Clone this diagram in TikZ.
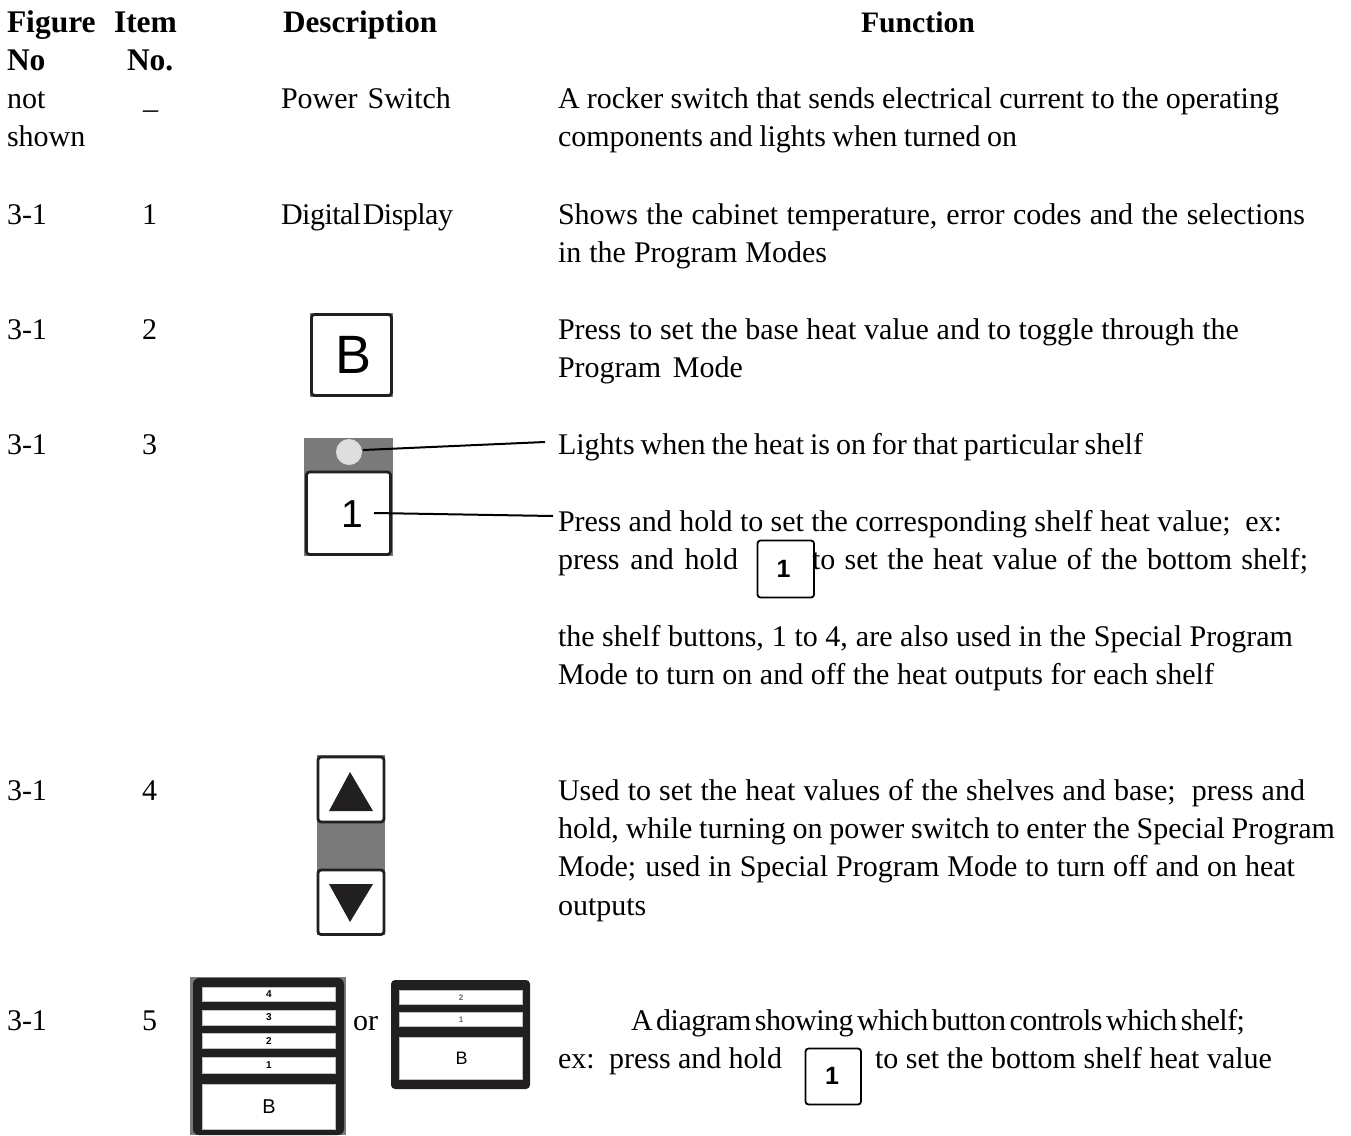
\documentclass[tikz,border=0pt]{standalone}
\usepackage{fontspec}
\usetikzlibrary{calc}
\setmainfont{Liberation Serif}
\newfontfamily\btnfont{Liberation Sans}
\newfontfamily\tightfont[LetterSpace=-1.7]{Liberation Serif}
\definecolor{panelgray}{RGB}{122,122,122}
\definecolor{dotgray}{RGB}{222,222,222}
\definecolor{inkdark}{RGB}{33,31,32}
\newcommand{\Fit}[2]{\hbox to #1pt{\spaceskip=6pt plus 30pt minus 6pt\relax #2}}
\tikzset{
  txt/.style={anchor=base west,inner sep=0pt,outer sep=0pt,font=\fontsize{30}{30}\selectfont},
  tight/.style={txt,font=\tightfont\fontsize{30}{30}\selectfont},
  hd/.style={txt,font=\fontsize{31.5}{31.5}\selectfont\bfseries},
  btn/.style={draw=inkdark,line width=2.8pt,rounded corners=3pt,fill=white},
  thinbtn/.style={draw=black,line width=1.8pt,rounded corners=3pt,fill=white},
  blk/.style={fill=inkdark,rounded corners=6pt},
  slot/.style={fill=white,draw=black!25,line width=.4pt},
  lead/.style={draw=black,line width=2pt},
  lab/.style={inner sep=0pt,font=\btnfont},
  slotlab/.style={lab,font=\btnfont\bfseries\fontsize{10}{10}\selectfont},
  graylab/.style={lab,text=black!60,font=\btnfont\bfseries\fontsize{8}{8}\selectfont},
  keylab/.style={lab,font=\btnfont\bfseries\fontsize{25}{25}\selectfont}
}
\begin{document}
\begin{tikzpicture}[x=1pt,y=-1pt]
\useasboundingbox (0,0) rectangle (1351,1135);
% header
\node[hd] (h1) at (7,32) {Figure};
\node[hd] (h2) at (114,32) {Item};
\node[hd,font=\fontsize{31.2}{31.2}\selectfont\bfseries] (h3) at (283,32) {Description};
\node[hd,font=\fontsize{29.7}{30}\selectfont\bfseries] (h4) at (861,32) {Function};
\node[hd] (h5) at (7,70) {No};
\node[hd] (h6) at (127,70) {No.};
% row power switch
\node[txt] (a1) at (7,108) {not};
\node[txt] (a2) at (7,146) {shown};
\node[txt] (a3) at (143,108) {\_};
\node[txt] (a4) at (281,108) {\Fit{170}{Power Switch}};
\node[txt] (a5) at (558,108) {\Fit{721}{A rocker switch that sends electrical current to the operating}};
\node[txt] (a6) at (558,146) {\Fit{459}{components and lights when turned on}};
% digital display
\node[txt] (b1) at (7,224) {3-1};
\node[txt] (b2) at (142,224) {1};
\node[tight] (b3) at (281,224) {\Fit{172}{Digital Display}};
\node[txt] (b4) at (558,224) {\Fit{747}{Shows the cabinet temperature, error codes and the selections}};
\node[txt] (b5) at (558,262) {\Fit{269}{in the Program Modes}};
% B
\node[txt] (c1) at (7,339) {3-1};
\node[txt] (c2) at (142,339) {2};
\fill[panelgray] (310,313) rectangle (393,397);
\draw[btn] (311.5,314.5) rectangle (391.5,395.5);
\node[lab,font=\btnfont\fontsize{54}{54}\selectfont] (cb) at (353.5,355) {B};
\node[txt] (c4) at (558,339) {\Fit{681}{Press to set the base heat value and to toggle through the}};
\node[txt] (c5) at (558,377) {\Fit{185}{Program Mode}};
% shelf
\node[txt] (d1) at (7,454) {3-1};
\node[txt] (d2) at (142,454) {3};
\fill[panelgray] (304,438) rectangle (393,556);
\node[circle,fill=dotgray,minimum size=26pt,inner sep=0pt] (dot) at (349,452) {};
\draw[btn] (306.5,472) rectangle (390.5,554.5);
\node[lab,font=\btnfont\fontsize{39}{39}\selectfont] (one) at (352,514) {1};
\node[txt] (d4) at (558,454) {\Fit{585}{Lights when the heat is on for that particular shelf}};
\node[txt] (d5) at (558,531) {\Fit{724}{Press and hold to set the corresponding shelf heat value;\ \ ex:}};
\node[txt] (d6) at (558,569) {\Fit{180}{press and hold}};
\draw[thinbtn] (757.5,540.5) rectangle (814,597.5);
\node[keylab] (d1b) at (783.5,568.5) {1};
\node[txt] (d7) at (812,569) {\Fit{496}{to set the heat value of the bottom shelf;}};
\node[txt] (d8) at (558,646) {\Fit{735}{the shelf buttons, 1 to 4, are also used in the Special Program}};
\node[txt] (d9) at (558,684) {\Fit{656}{Mode to turn on and off the heat outputs for each shelf}};
\coordinate (dotend) at ($(dot.center)+(14,-2)$);
\coordinate (oneend) at ($(one.center)+(22,-1)$);
\coordinate (d4end) at ($(d4.base west)+(-13,-12)$);
\coordinate (d5end) at ($(d5.base west)+(-5,-15)$);
\draw[lead] (dotend) -- (d4end);
\draw[lead] (oneend) -- (d5end);
% arrows
\node[txt] (e1) at (7,800) {3-1};
\node[txt] (e2) at (142,800) {4};
\fill[panelgray] (317,755) rectangle (385,935);
\draw[btn] (318,757) rectangle (384,822);
\draw[btn] (318,870) rectangle (384,934.5);
\fill[inkdark] (350,772) -- (373,811) -- (329,811) -- cycle;
\fill[inkdark] (350,922) -- (373,884) -- (329,884) -- cycle;
\node[txt] (e4) at (558,800) {\Fit{747}{Used to set the heat values of the shelves and base;\ \ press and}};
\node[txt] (e5) at (558,838) {\Fit{777}{hold, while turning on power switch to enter the Special Program}};
\node[txt] (e6) at (558,876) {\Fit{737}{Mode; used in Special Program Mode to turn off and on heat}};
\node[txt] (e7) at (558,915) {outputs};
% diagrams
\node[txt] (f1) at (7,1030) {3-1};
\node[txt] (f2) at (142,1030) {5};
\fill[panelgray] (190,977) rectangle (346,1135);
\fill[blk] (193,978) rectangle (344,1135);
\fill[slot] (202,987) rectangle (335,1001);
\fill[slot] (202,1010) rectangle (335,1025);
\fill[slot] (202,1033) rectangle (335,1048);
\fill[slot] (202,1057) rectangle (335,1073);
\fill[slot] (202,1084) rectangle (335,1129);
\node[slotlab] (l4) at (269,994) {4};
\node[slotlab] (l3) at (269,1017) {3};
\node[slotlab] (l2) at (269,1041) {2};
\node[slotlab] (l1) at (269,1065) {1};
\node[lab,font=\btnfont\fontsize{20}{20}\selectfont] (lb) at (269,1107) {B};
\node[txt] (f3) at (353,1030) {or};
\fill[blk,rounded corners=4pt] (391,980) rectangle (530,1089);
\fill[slot] (399,990) rectangle (522,1004);
\fill[slot] (399,1012) rectangle (522,1026);
\fill[slot] (399,1037) rectangle (522,1079);
\node[graylab] (r2) at (461,998) {2};
\node[graylab] (r1) at (461,1020) {1};
\node[lab,font=\btnfont\fontsize{18}{18}\selectfont] (rb) at (461.5,1058) {B};
\node[tight] (f4) at (631,1030) {\Fit{614}{A diagram showing which button controls which shelf;}};
\node[txt] (f5) at (558,1068) {\Fit{224}{ex:\ \ press and hold}};
\draw[thinbtn] (805.5,1048.5) rectangle (861,1104.5);
\node[keylab] (f1b) at (832,1076) {1};
\node[txt] (f6) at (875,1068) {\Fit{397}{to set the bottom shelf heat value}};
\end{tikzpicture}
\end{document}
